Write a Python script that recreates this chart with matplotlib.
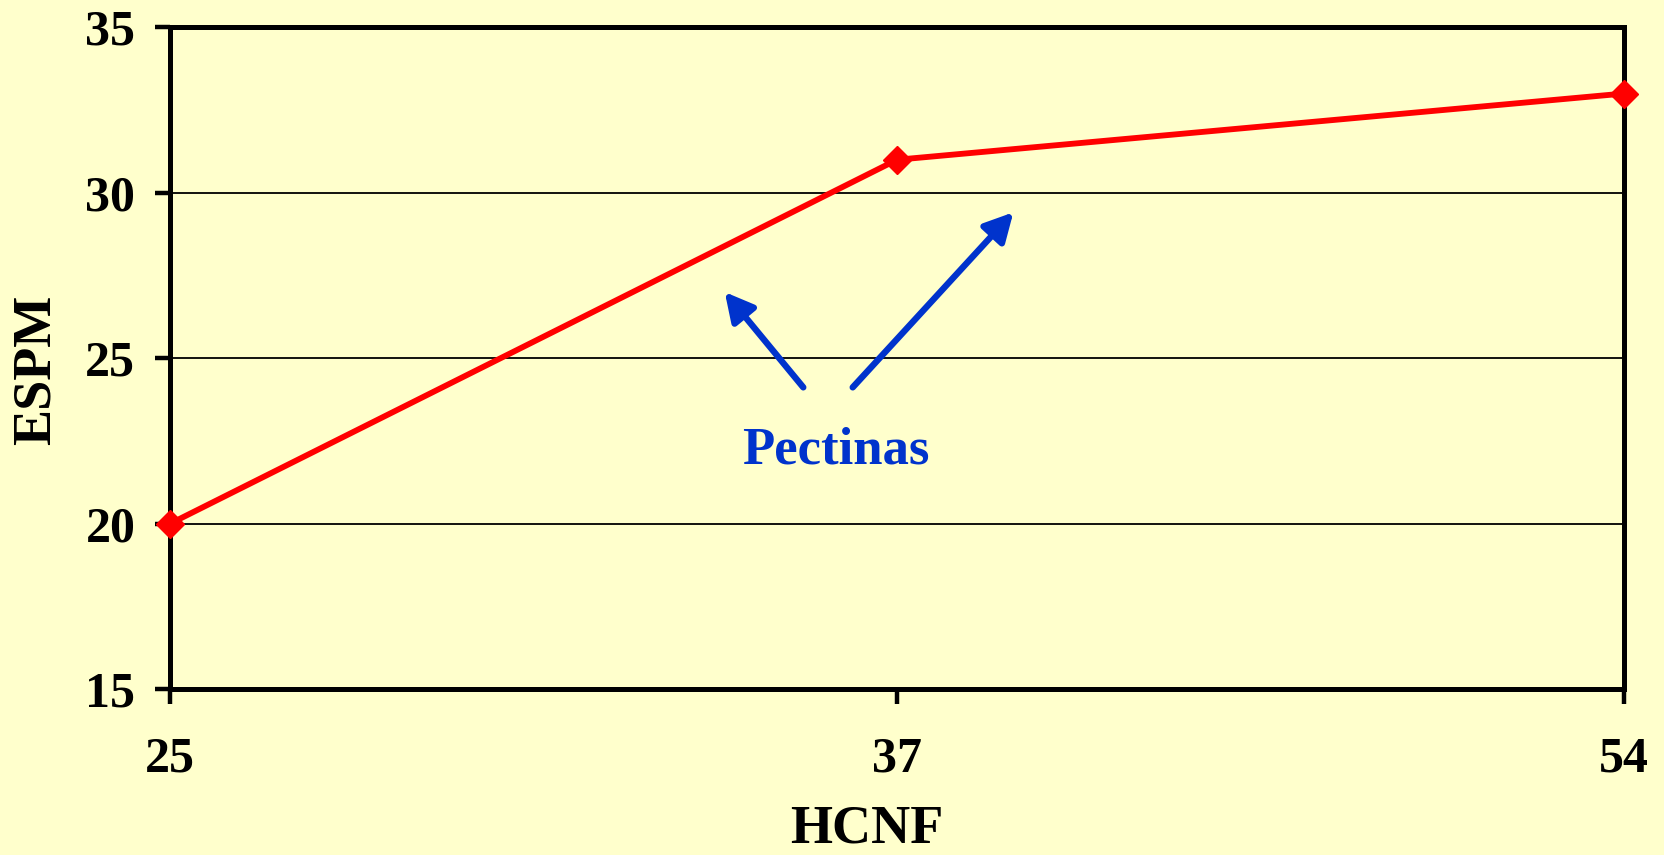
import matplotlib.pyplot as plt

# datos
hcnf = ["25", "37", "54"]
espm = [20, 31, 33]
y_ticks = [15, 20, 25, 30, 35]

bg = "#FFFFCC"
rojo = "#FF0000"
azul = "#0033CC"

plt.rcParams['font.family'] = ['Liberation Serif', 'DejaVu Serif']
plt.rcParams['font.weight'] = 'bold'

fig = plt.figure(figsize=(16.64, 8.55), dpi=100, facecolor=bg)
ax = fig.add_axes([0.1022, 0.194, 0.8738, 0.774])
ax.set_facecolor(bg)

x = list(range(len(hcnf)))
ax.plot(x, espm, color=rojo, lw=4.2, marker='D', markersize=14, zorder=5, clip_on=False)

ax.set_xlim(0, len(hcnf) - 1)
ax.set_ylim(15, 35)
ax.set_xticks(x)
ax.set_xticklabels(hcnf)
ax.set_yticks(y_ticks)
ax.yaxis.grid(True, color='black', lw=1.3)
ax.set_axisbelow(True)

for s in ax.spines.values():
    s.set_linewidth(3.6)
    s.set_color('black')

ax.tick_params(axis='y', direction='out', length=11, width=3.2, labelsize=36, pad=14)
ax.tick_params(axis='x', direction='out', length=11, width=3.2, labelsize=36, pad=23)
for lab in ax.get_xticklabels() + ax.get_yticklabels():
    lab.set_fontweight('bold')

ax.set_xlabel("HCNF", fontsize=39, fontweight='bold')
ax.set_ylabel("ESPM", fontsize=39, fontweight='bold')
ax.xaxis.set_label_coords(0.479, -0.212)
ax.xaxis.label.set_va('center')
ax.yaxis.set_label_coords(-0.0915, 0.483)
ax.yaxis.label.set_va('center')

# flechas
flecha = dict(arrowstyle='-|>,head_length=0.95,head_width=0.5', lw=4.6, color=azul,
              mutation_scale=18, shrinkA=0, shrinkB=0)
ax.annotate('', xy=(0.763, 27.0), xytext=(0.871, 24.12), arrowprops=flecha)
ax.annotate('', xy=(1.160, 29.41), xytext=(0.939, 24.12), arrowprops=flecha)
ax.text(0.915, 22.22, "Pectinas", color=azul, fontsize=38, fontweight='bold',
        ha='center', va='center')

fig.savefig("out.png", dpi=100, facecolor=bg)
